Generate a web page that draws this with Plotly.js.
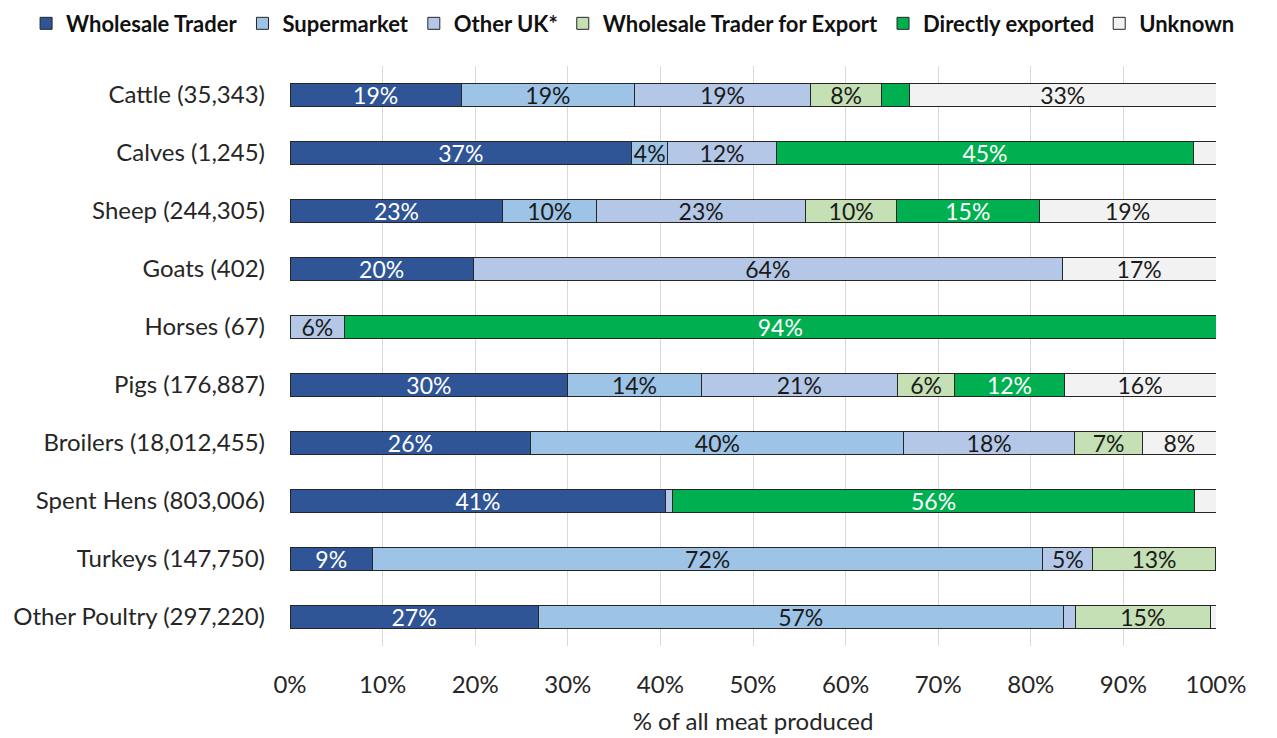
<!DOCTYPE html>
<html>
<head>
<meta charset="utf-8">
<script src="https://cdn.plot.ly/plotly-3.0.1.min.js"></script>
<style>html,body{margin:0;padding:0;background:#fff;}#chart{width:1277px;height:738px;}</style>
</head>
<body>
<div id="chart"></div>
<script>
const categories = ["Cattle (35,343)","Calves (1,245)","Sheep (244,305)","Goats (402)","Horses (67)","Pigs (176,887)","Broilers (18,012,455)","Spent Hens (803,006)","Turkeys (147,750)","Other Poultry (297,220)"];
const seriesNames = ["Wholesale Trader","Supermarket","Other UK*","Wholesale Trader for Export","Directly exported","Unknown"];
const wholesaleTrader = [18.5, 36.9, 23.0, 19.8, 0, 30.0, 26.0, 40.6, 8.9, 26.8];
const supermarket     = [18.7, 3.9, 10.1, 0, 0, 14.4, 40.3, 0, 72.4, 56.7];
const otherUK         = [19.0, 11.7, 22.6, 63.6, 5.9, 21.2, 18.4, 0.7, 5.4, 1.3];
const wholesaleExport = [7.7, 0, 9.8, 0, 0, 6.2, 7.4, 0, 13.2, 14.6];
const directExport    = [3.0, 45.1, 15.4, 0, 94.1, 11.8, 0, 56.4, 0, 0];
const unknown         = [33.1, 2.4, 19.1, 16.6, 0, 16.4, 7.9, 2.3, 0.1, 0.6];
const xTickVals = [0,10,20,30,40,50,60,70,80,90,100];
const xTickText = ["0%","10%","20%","30%","40%","50%","60%","70%","80%","90%","100%"];

const seriesData = [wholesaleTrader, supermarket, otherUK, wholesaleExport, directExport, unknown];
const colors = ["#2F5597","#9DC3E6","#B4C7E7","#C5E0B4","#00B050","#F2F2F2"];
const textColors = ["#ffffff","#1a1a1a","#1a1a1a","#1a1a1a","#ffffff","#1a1a1a"];
const FONT = "Lato, 'Open Sans', sans-serif";

const traces = seriesData.map((vals, i) => ({
  type: 'bar',
  orientation: 'h',
  name: seriesNames[i],
  y: categories,
  x: vals,
  text: vals.map(v => v >= 3.5 ? Math.round(v) + '%' : ''),
  textposition: 'inside',
  insidetextanchor: 'middle',
  textangle: 0,
  constraintext: 'none',
  textfont: {family: FONT, size: 23, color: textColors[i]},
  marker: {color: colors[i], line: {color: '#262626', width: 1}},
  hoverinfo: 'skip',
  width: 0.38
}));

const layout = {
  width: 1277, height: 738,
  barmode: 'stack',
  paper_bgcolor: '#fff', plot_bgcolor: '#fff',
  font: {family: FONT, size: 24, color: '#262626'},
  margin: {l: 290, r: 61, t: 66, b: 92, autoexpand: false},
  xaxis: {
    range: [0, 100], tickvals: xTickVals, ticktext: xTickText, tickangle: 0,
    showgrid: true, gridcolor: '#D9D9D9', gridwidth: 1, zeroline: false,
    showline: false, ticks: '', ticklabelstandoff: 22, automargin: false,
    tickfont: {family: FONT, size: 24, color: '#262626'},
    title: {text: '% of all meat produced', font: {family: FONT, size: 24, color: '#262626'}, standoff: 16}
  },
  yaxis: {
    autorange: 'reversed', showgrid: false, zeroline: false, showline: false, automargin: false,
    ticks: '', ticklabelstandoff: 24, tickfont: {family: FONT, size: 24, color: '#262626'}
  },
  showlegend: true,
  legend: {
    orientation: 'h', xref: 'paper', yref: 'paper',
    x: -0.285, xanchor: 'left', y: 1.037, yanchor: 'bottom',
    font: {family: FONT, size: 22, color: '#111', weight: 'bold'},
    traceorder: 'normal', itemwidth: 30
  }
};

Plotly.newPlot('chart', traces, layout, {displayModeBar: false, staticPlot: true});
</script>
</body>
</html>
